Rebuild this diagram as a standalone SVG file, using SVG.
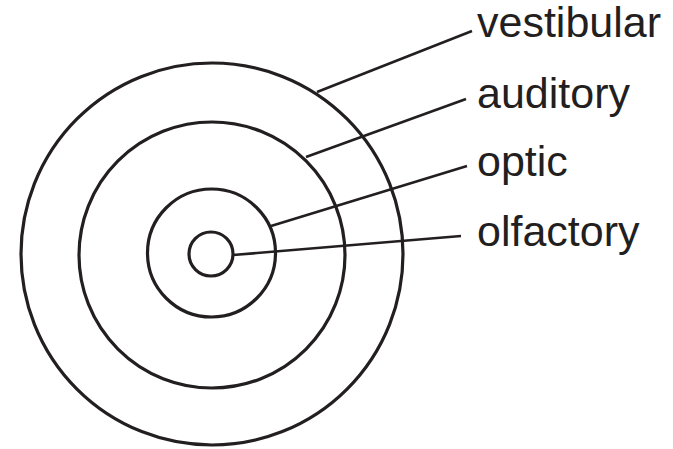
<svg xmlns="http://www.w3.org/2000/svg" width="673" height="449" viewBox="0 0 673 449">
<style>
.ring{fill:none;stroke:#231f20;stroke-width:3.2}
.lead{stroke:#231f20;stroke-width:2.6;fill:none}
.lbl{font-family:"Liberation Sans",Arial,sans-serif;font-size:43px;fill:#231f20}
</style>
<rect width="673" height="449" fill="#fff"/>
<g id="vestibular"><circle class="ring" cx="212" cy="254" r="191"/><text class="lbl" x="477" y="37">vestibular</text></g>
<g id="auditory"><circle class="ring" cx="212" cy="255" r="133"/><text class="lbl" x="477" y="108">auditory</text></g>
<g id="optic"><circle class="ring" cx="211.5" cy="253" r="64"/><text class="lbl" x="477" y="176">optic</text></g>
<g id="olfactory"><circle class="ring" cx="211" cy="254" r="22"/><text class="lbl" x="477" y="246">olfactory</text></g>
<g id="connectors">
<line class="lead" x1="317" y1="92" x2="472" y2="31"/>
<line class="lead" x1="306" y1="157" x2="466" y2="99"/>
<line class="lead" x1="271" y1="226" x2="467" y2="166"/>
<line class="lead" x1="233" y1="255" x2="461" y2="236"/>
</g>
</svg>
